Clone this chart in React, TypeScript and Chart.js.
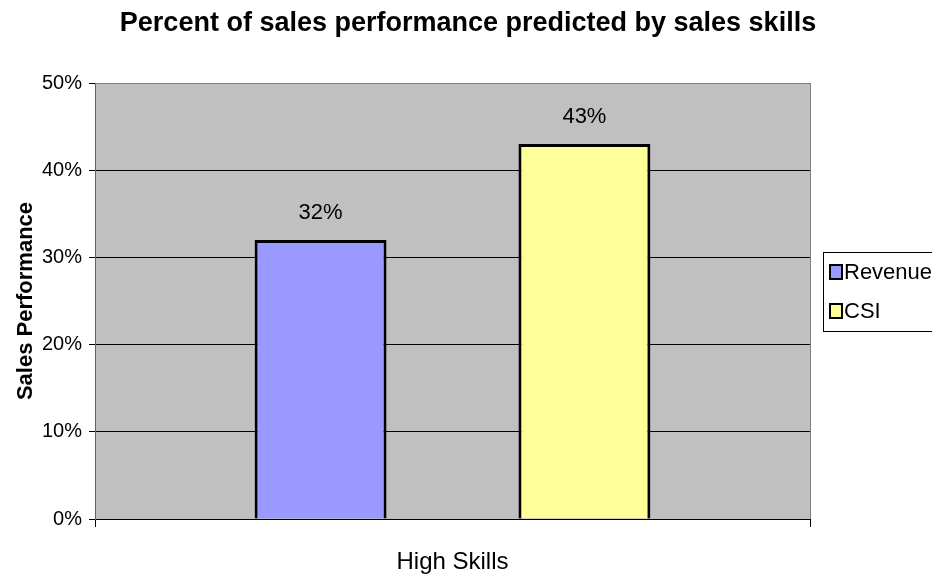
import React, { useEffect, useRef } from "react";
import { Chart, registerables } from "chart.js";

Chart.register(...registerables);

const categories = ["High Skills"];
const seriesNames = ["Revenue", "CSI"];
const revenueValues = [32];
const csiValues = [43];
const seriesColors = ["#9999FF", "#FFFF99"];
const yTicks = [0, 10, 20, 30, 40, 50];
const chartTitle = "Percent of sales performance predicted by sales skills";
const yTitle = "Sales Performance";

const FONT = "'Liberation Sans', Arial, sans-serif";

export default function App() {
  const ref = useRef<HTMLCanvasElement | null>(null);
  useEffect(() => {
    document.body.style.margin = "0";
    const canvas = ref.current!;
    const bgPlugin = {
      id: "bg",
      beforeDraw(chart: any) {
        const { ctx, chartArea } = chart;
        ctx.save();
        ctx.fillStyle = "#ffffff";
        ctx.fillRect(0, 0, chart.width, chart.height);
        ctx.fillStyle = "#C0C0C0";
        ctx.fillRect(chartArea.left, chartArea.top, chartArea.right - chartArea.left, chartArea.bottom - chartArea.top);
        ctx.restore();
      },
    };
    const textPlugin = {
      id: "texts",
      afterDraw(chart: any) {
        const { ctx, chartArea } = chart;
        ctx.save();
        // title
        ctx.fillStyle = "#000";
        ctx.font = `bold 27px ${FONT}`;
        ctx.textAlign = "center";
        ctx.textBaseline = "alphabetic";
        ctx.fillText(chartTitle, 468, 31);
        // y title
        ctx.save();
        ctx.translate(32, (chartArea.top + chartArea.bottom) / 2);
        ctx.rotate(-Math.PI / 2);
        ctx.font = `bold 22px ${FONT}`;
        ctx.fillText(yTitle, 0, 0);
        ctx.restore();
        // data labels
        ctx.textBaseline = "middle";
        ctx.font = `22px ${FONT}`;
        chart.data.datasets.forEach((ds: any, i: number) => {
          const meta = chart.getDatasetMeta(i);
          meta.data.forEach((bar: any, j: number) => {
            ctx.fillText(ds.data[j] + "%", bar.x, bar.y - 27);
          });
        });
        // legend
        const lx = chartArea.right + 13;
        const ly = 252;
        ctx.fillStyle = "#fff";
        ctx.fillRect(lx, ly, 140, 79);
        ctx.strokeStyle = "#000";
        ctx.lineWidth = 1;
        ctx.strokeRect(lx + 0.5, ly + 0.5, 140, 79);
        ctx.textAlign = "left";
        ctx.font = `22px ${FONT}`;
        seriesNames.forEach((name, i) => {
          const cy = ly + 20 + i * 39;
          ctx.fillStyle = seriesColors[i];
          ctx.fillRect(lx + 7, cy - 7, 12, 14);
          ctx.strokeStyle = "#000";
          ctx.lineWidth = 2;
          ctx.strokeRect(lx + 7, cy - 7, 12, 14);
          ctx.fillStyle = "#000";
          ctx.fillText(name, lx + 21, cy + 1);
        });
        ctx.restore();
      },
    };
    const chart = new Chart(canvas, {
      type: "bar",
      data: {
        labels: categories,
        datasets: [
          {
            label: seriesNames[0],
            data: revenueValues,
            backgroundColor: seriesColors[0],
            borderColor: "#000",
            borderWidth: 3,
            categoryPercentage: 0.738,
            barPercentage: 0.5,
          },
          {
            label: seriesNames[1],
            data: csiValues,
            backgroundColor: seriesColors[1],
            borderColor: "#000",
            borderWidth: 3,
            categoryPercentage: 0.738,
            barPercentage: 0.5,
          },
        ],
      },
      options: {
        responsive: false,
        animation: false,
        layout: { padding: { top: 83, right: 122, left: 0, bottom: 0 } },
        plugins: {
          legend: { display: false },
          title: { display: false },
          tooltip: { enabled: false },
        },
        scales: {
          x: {
            afterFit(scale: any) {
              scale.height = 61;
            },
            grid: {
              color: "#808080",
              tickColor: "#000",
              tickLength: 8,
              offset: true,
            },
            border: { color: "#000", width: 1 },
            ticks: {
              color: "#000",
              font: { family: FONT, size: 24 },
              padding: 21,
            },
          },
          y: {
            min: 0,
            max: 50,
            afterFit(scale: any) {
              scale.width = 95;
            },
            afterBuildTicks(scale: any) {
              scale.ticks = yTicks.map((v) => ({ value: v }));
            },
            grid: {
              color: (c: any) => (c.tick && c.tick.value === 50 ? "#808080" : "#000"),
              tickColor: "#000",
              tickLength: 6,
            },
            border: { color: "#606060", width: 1 },
            ticks: {
              color: "#000",
              font: { family: FONT, size: 20 },
              padding: 7,
              callback: (v: any) => v + "%",
            },
          },
        },
      },
      plugins: [bgPlugin, textPlugin],
    });
    return () => chart.destroy();
  }, []);
  return <canvas ref={ref} width={932} height={580} style={{ display: "block" }} />;
}
